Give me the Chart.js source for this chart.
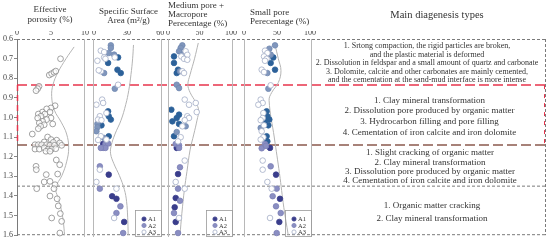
<!DOCTYPE html>
<html>
<head>
<meta charset="utf-8">
<script src="https://cdn.jsdelivr.net/npm/chart.js@4"></script>
<style>
  body { margin: 0; background: #fff; }
  #wrap { position: relative; width: 550px; height: 241px; }
  #wrap canvas { position: absolute; left: 0; top: 0; }
</style>
</head>
<body>
<div id="wrap">
  <canvas id="bg" width="550" height="241"></canvas>
  <canvas id="p1" width="550" height="241"></canvas>
  <canvas id="p2" width="550" height="241"></canvas>
  <canvas id="p3" width="550" height="241"></canvas>
  <canvas id="p4" width="550" height="241"></canvas>
</div>
<script>
// depth axis (m) and tick labels
const depthMin = 0.6, depthMax = 1.6;
const porTicks = [0, 5, 10];
const ssaTicks = [0, 30, 60];
const pctTicks = [0, 50, 100];

// zone boundaries (depth)
const zoneLines = [0.835, 1.14, 1.35];

// [depth, value] pairs
const porosity = [
  [0.70,6.4],[0.782,4.75],[0.775,5.1],[0.768,5.45],[0.762,5.7],
  [0.839,3.24],[0.851,3.04],[0.861,2.8],
  [0.937,5.6],[0.948,5.0],[0.953,4.36],[0.969,3.73],[0.979,3.14],[0.969,4.85],[0.979,4.1],
  [0.99,3.53],[0.999,3.04],[0.999,5.0],[1.007,4.36],[1.016,3.77],[1.024,3.28],[1.029,5.25],
  [1.033,4.0],[1.041,3.48],[1.053,3.14],[1.08,2.25],
  [1.095,4.5],[1.108,5.0],[1.111,5.83],[1.12,4.0],[1.122,5.34],[1.125,6.28],
  [1.134,2.65],[1.134,3.14],[1.134,3.63],[1.134,4.36],[1.137,4.85],[1.137,5.5],[1.137,6.57],
  [1.156,2.65],[1.156,3.28],[1.15,4.0],[1.156,4.6],[1.156,5.1],[1.154,5.7],[1.167,4.26],[1.167,4.85],
  [1.211,5.78],[1.235,6.28],[1.243,2.8],[1.26,2.84],[1.285,4.3],[1.282,5.98],[1.322,4.0],
  [1.319,4.85],[1.336,5.6],[1.356,2.9],[1.356,5.44],[1.393,4.85],[1.407,5.9],[1.443,6.07],
  [1.482,6.37],[1.504,5.1],[1.521,6.57],[1.58,6.3]
];
const porTrend = [
  [0.64,8.4],[0.70,7.2],[0.77,6.0],[0.83,5.3],[0.89,5.1],[0.96,5.5],[1.02,6.5],[1.08,7.3],
  [1.15,7.6],[1.22,7.3],[1.29,6.6],[1.35,5.7],[1.40,6.0],[1.46,6.5],[1.52,6.8],[1.59,7.0]
];

const ssaA1 = [
  [0.693,21.8],[0.721,12.7],[0.755,21.2],[0.772,24.2],[0.965,12.7],[0.99,13.3],[1.007,15.2],
  [1.036,6.7],[1.091,13.3],[1.13,8.2],[1.285,13.3],[1.394,16.4],[1.407,20.3],[1.524,27.3]
];
const ssaA2 = [
  [0.632,15.2],[0.645,15.2],[0.671,13.3],[0.679,18.2],[0.772,9.1],[0.851,18.8],[1.029,3.0],
  [1.046,3.0],[1.066,2.1],[1.1,9.1],[1.13,10.3],[1.128,12.7],[1.15,8.2],[1.15,10.3],[1.15,6.1],
  [1.243,5.2],[1.356,5.2],[1.445,23.9],[1.479,20.3],[1.58,26.4]
];
const ssaA3 = [
  [0.659,6.1],[0.666,9.1],[0.693,18.8],[0.693,9.1],[0.71,3.0],[0.70,10.3],[0.763,6.1],[0.758,4.2],
  [0.831,21.8],[0.906,7.3],[0.923,8.2],[0.932,2.1],[0.974,11.2],[0.99,5.2],[1.007,3.6],[1.01,6.7],
  [1.091,6.1],[1.108,11.2],[1.11,3.6],[1.26,5.2],[1.322,2.1],[1.356,20.3],[1.504,18.2]
];
const ssaTrend = [
  [0.63,35.8],[0.70,35],[0.78,33.5],[0.86,31.5],[0.93,28.8],[1.01,24.5],[1.08,19],[1.14,15.5],
  [1.18,15],[1.23,18],[1.29,23],[1.36,27.5],[1.42,29.5],[1.50,30.5],[1.59,31]
];

const macroA1 = [
  [0.688,9.5],[0.721,9.5],[0.755,15.9],[0.772,13.8],[0.957,5.3],[0.982,17.5],[0.999,13.8],
  [1.016,6.9],[1.029,17.5],[1.091,9.5],[1.15,13.8],[1.282,15.9],[1.403,12.2],[1.45,10.6],[1.524,12.2]
];
const macroA2 = [
  [0.632,22.7],[0.645,20.1],[0.662,17.5],[0.676,24.3],[0.763,19],[0.831,13.8],[0.848,17.5],
  [1.041,28],[1.07,13.8],[1.13,12.2],[1.137,17.5],[1.15,17.5],[1.248,19],[1.356,15.9],
  [1.417,19],[1.479,9.5],[1.58,15.9]
];
const macroA3 = [
  [0.662,28],[0.68,30.6],[0.688,21.1],[0.70,25.4],[0.705,30.6],[0.763,22.7],[0.772,25.4],
  [0.906,26.5],[0.932,33.3],[0.923,44],[0.969,45.5],[0.99,30.6],[0.999,33.3],[1.01,26.5],
  [1.041,22.7],[1.096,20.1],[1.117,15.9],[1.214,26.5],[1.322,12.2],[1.356,26.5],[1.504,17.5]
];
const macroTrend = [
  [0.62,48],[0.70,42],[0.78,35],[0.83,31.5],[0.87,35],[0.92,44],[0.96,48.5],[1.01,46],
  [1.08,41],[1.16,35],[1.27,30],[1.36,26],[1.48,22],[1.59,19]
];

const smallA1 = [
  [0.693,44.4],[0.721,40.4],[0.755,47],[0.965,34.3],[0.99,35.4],[1.007,38.4],[1.016,31.8],
  [1.036,36.9],[1.091,34.3],[1.117,35.4],[1.15,39.4],[1.285,48.5],[1.407,54.5],[1.524,53.5]
];
const smallA2 = [
  [0.632,47],[0.649,38.4],[0.679,40.4],[0.772,35.4],[0.851,36.9],[1.049,25.3],[1.13,31.8],
  [1.152,26.8],[1.14,33.3],[1.243,40.4],[1.356,49.5],[1.394,43.4],[1.445,48.5],[1.479,55.6],[1.58,49.5]
];
const smallA3 = [
  [0.659,31.8],[0.671,35.4],[0.688,30.3],[0.70,34.3],[0.71,31.8],[0.755,26.8],[0.767,30.3],
  [0.834,40.4],[0.906,25.3],[0.923,28.3],[0.932,21.7],[0.974,29.3],[0.999,28.3],[1.01,25.3],
  [1.036,30.3],[1.066,26.8],[1.096,29.3],[1.108,25.3],[1.214,28.3],[1.26,28.3],[1.322,35.4],
  [1.356,41.9],[1.504,39.4]
];
const smallTrend = [
  [0.63,47],[0.70,52],[0.76,56],[0.82,52],[0.87,42],[0.91,38],[1.10,46],[1.28,53.8],[1.45,60.3],[1.59,67]
];

const diagenesis = [
  { from: 0.6, to: 0.835, size: 8, gap: 8.5, cx: 427, lines: [
    '1. Srtong compaction, the rigid particles are broken,',
    'and the plastic material is deformed',
    '2. Dissolution in feldspar and a small amount of quartz and carbonate',
    '3. Dolomite, calcite and other carbonates are mainly cemented,',
    'and the cementation at the sand-mud interface is more intense'] },
  { from: 0.835, to: 1.14, size: 9, gap: 10.6, cx: 429.5, lines: [
    '1. Clay mineral transformation',
    '2. Dissolution pore produced by organic matter',
    '3. Hydrocarbon filling and pore filling',
    '4. Cementation of iron calcite and iron dolomite'] },
  { from: 1.14, to: 1.35, size: 9, gap: 9.2, cx: 430, lines: [
    '1. Slight cracking of organic matter',
    '2. Clay mineral transformation',
    '3. Dissolution pore produced by organic matter',
    '4. Cementation of iron calcite and iron dolomite'] },
  { from: 1.35, to: 1.6, size: 9, gap: 12.6, cx: 432, lines: [
    '1. Organic matter cracking',
    '2. Clay mineral transformation'] }
];

const SERIF = "'Liberation Serif', 'Times New Roman', serif";
const A1_UP = '#2c6199', A1_LOW = '#3a3d8c';
const A2_UP = '#8096bc', A2_LOW = '#8a8ec2';
const A3_EDGE = '#a3adc6';

const pts = arr => arr.map(p => ({ x: p[1], y: p[0] }));
const byDepth = (up, low) => c => (c.raw && c.raw.y < 1.12 ? up : low);

function trend(arr) {
  return { data: pts(arr), showLine: true, borderColor: '#b4b4b4', borderWidth: 1,
           pointRadius: 0, tension: 0.4, order: 5 };
}
function group(label, arr) {
  const ds = { label, data: pts(arr), pointRadius: 2.8, pointBorderWidth: 0.8, order: 0 };
  if (label === 'A1') { ds.backgroundColor = byDepth(A1_UP, A1_LOW); ds.borderColor = byDepth(A1_UP, A1_LOW); }
  if (label === 'A2') { ds.backgroundColor = byDepth(A2_UP, A2_LOW); ds.borderColor = byDepth('#7189b1', '#7c80b6'); }
  if (label === 'A3') { ds.backgroundColor = '#ffffff'; ds.borderColor = A3_EDGE; }
  return ds;
}

// background: depth axis, zone lines, titles, diagenesis text
const bgPlugin = {
  id: 'bgDraw',
  afterDraw(chart) {
    const ctx = chart.ctx, y = chart.scales.y, a = chart.chartArea;
    const line = (x1, y1, x2, y2, color, w, dash) => {
      ctx.save(); ctx.strokeStyle = color; ctx.lineWidth = w; ctx.setLineDash(dash);
      ctx.beginPath(); ctx.moveTo(x1, y1); ctx.lineTo(x2, y2); ctx.stroke(); ctx.restore();
    };
    const grey = '#7a7a7a';
    line(a.left, a.top + 0.5, a.right, a.top + 0.5, grey, 1, [3, 2]);
    line(a.left, a.bottom - 0.5, a.right, a.bottom - 0.5, grey, 1, [3, 2]);
    line(a.right - 0.5, a.top, a.right - 0.5, a.bottom, grey, 1, [3, 2]);
    const yr = y.getPixelForValue(zoneLines[0]), yb = y.getPixelForValue(zoneLines[1]);
    const yg = y.getPixelForValue(zoneLines[2]);
    line(a.left, yg, a.right, yg, grey, 1, [3, 2]);
    line(a.left, yb, a.right, yb, '#8a5a4e', 1.5, [10, 4]);
    line(a.left, yr, a.right - 1, yr, '#e8344c', 1.5, [10, 4]);
    line(a.right - 1.5, yr, a.right - 1.5, yb, '#e8344c', 1, [4, 5]);
    line(a.left + 0.5, yr, a.left + 0.5, yb, '#e8344c', 1.5, [6, 4]);

    ctx.save();
    ctx.fillStyle = '#333';
    ctx.textAlign = 'center'; ctx.textBaseline = 'middle';
    ctx.font = '9px ' + SERIF;
    ctx.fillText('Effective', 50, 9.5);
    ctx.fillText('porosity (%)', 50, 20);
    ctx.fillText('Specific Surface', 128.5, 11.5);
    ctx.fillText('Area (m\u00B2/g)', 128.5, 21);
    ctx.textAlign = 'left';
    ctx.fillText('Medium pore +', 168, 6);
    ctx.fillText('Macropore', 168, 15);
    ctx.fillText('Perecentage (%)', 168, 24);
    ctx.fillText('Small pore', 250, 12.5);
    ctx.fillText('Perecentage (%)', 250, 21.5);
    ctx.textAlign = 'center';
    ctx.font = '10.5px ' + SERIF;
    ctx.fillText('Main diagenesis types', 437, 15);
    diagenesis.forEach(b => {
      const c = (y.getPixelForValue(b.from) + y.getPixelForValue(b.to)) / 2 + 1.3;
      ctx.font = b.size + 'px ' + SERIF;
      b.lines.forEach((t, i) => {
        ctx.fillText(t, b.cx, c + (i - (b.lines.length - 1) / 2) * b.gap);
      });
    });
    ctx.restore();
  }
};

new Chart(document.getElementById('bg'), {
  type: 'scatter',
  data: { datasets: [] },
  options: {
    responsive: false, animation: false,
    layout: { padding: { left: 0, right: 4, top: 39, bottom: 4 } },
    plugins: { legend: { display: false }, tooltip: { enabled: false } },
    scales: {
      x: { display: false, min: 0, max: 1 },
      y: {
        reverse: true, min: depthMin, max: depthMax,
        afterFit: s => { s.width = 17; },
        ticks: { stepSize: 0.1, callback: v => v.toFixed(1), color: '#444',
                 font: { family: SERIF, size: 8 }, padding: 1 },
        grid: { drawOnChartArea: false, tickLength: 3, color: '#888' },
        border: { color: '#7a7a7a', dash: [3, 2] }
      }
    }
  },
  plugins: [bgPlugin]
});

// panel borders and legend box
const borderPlugin = {
  id: 'panelBorder',
  afterDraw(chart, args, opts) {
    const ctx = chart.ctx, a = chart.chartArea;
    ctx.save();
    ctx.strokeStyle = '#b8b8b8'; ctx.lineWidth = 1;
    ctx.beginPath();
    if (opts.left) { ctx.moveTo(a.left + 0.5, a.top); ctx.lineTo(a.left + 0.5, a.bottom); }
    ctx.moveTo(a.right - 0.5, a.top); ctx.lineTo(a.right - 0.5, a.bottom);
    ctx.stroke();
    if (opts.legend) {
      const w = 27, h = 26, x0 = a.right - w, y0 = a.bottom - 1 - h;
      ctx.strokeStyle = '#9a9a9a'; ctx.lineWidth = 0.8;
      ctx.strokeRect(x0 + 0.5, y0 + 0.5, w - 1, h);
      const rows = [['A1', A1_LOW, A1_LOW], ['A2', A2_LOW, '#7c80b6'], ['A3', '#ffffff', A3_EDGE]];
      ctx.font = '6.5px ' + SERIF; ctx.textBaseline = 'middle'; ctx.textAlign = 'left';
      rows.forEach((r, i) => {
        const yy = y0 + 9 + i * 6.5;
        ctx.beginPath(); ctx.arc(x0 + 9, yy, 2.1, 0, Math.PI * 2);
        ctx.fillStyle = r[1]; ctx.fill();
        ctx.strokeStyle = r[2]; ctx.lineWidth = 0.8; ctx.stroke();
        ctx.fillStyle = '#333'; ctx.fillText(r[0], x0 + 13, yy + 0.5);
      });
    }
    ctx.restore();
  }
};

function panel(id, left, right, xmin, xmax, ticks, datasets, opts) {
  return new Chart(document.getElementById(id), {
    type: 'scatter',
    data: { datasets },
    options: {
      responsive: false, animation: false,
      layout: { padding: { left: left, right: 550 - right, top: 31, bottom: 4 } },
      plugins: { legend: { display: false }, tooltip: { enabled: false }, panelBorder: opts },
      scales: {
        x: {
          type: 'linear', position: 'top', min: xmin, max: xmax,
          afterBuildTicks: s => { s.ticks = ticks.map(v => ({ value: v })); },
          afterFit: s => { s.height = 8; },
          grid: { display: false, drawTicks: false },
          border: { display: false },
          ticks: { padding: 1, color: '#444', font: { family: SERIF, size: 8 },
                   maxRotation: 0, autoSkip: false }
        },
        y: { display: false, reverse: true, min: depthMin, max: depthMax }
      },
      elements: { point: { hoverRadius: 2.8 } }
    },
    plugins: [borderPlugin]
  });
}

panel('p1', 17, 85, 0, 10, porTicks, [
  trend(porTrend),
  { data: pts(porosity), pointRadius: 2.9, pointBorderWidth: 0.8, backgroundColor: 'rgba(255,255,255,0.7)',
    borderColor: '#8a8a8a', order: 0 }
], { left: false, legend: false });

panel('p2', 93, 162, -1, 61.7, ssaTicks, [
  trend(ssaTrend), group('A3', ssaA3), group('A2', ssaA2), group('A1', ssaA1)
], { left: true, legend: true });

panel('p3', 168, 233, 0, 103, pctTicks, [
  trend(macroTrend), group('A3', macroA3), group('A2', macroA2), group('A1', macroA1)
], { left: true, legend: true });

panel('p4', 244, 312, 0, 103, pctTicks, [
  trend(smallTrend), group('A3', smallA3), group('A2', smallA2), group('A1', smallA1)
], { left: true, legend: true });
</script>
</body>
</html>
